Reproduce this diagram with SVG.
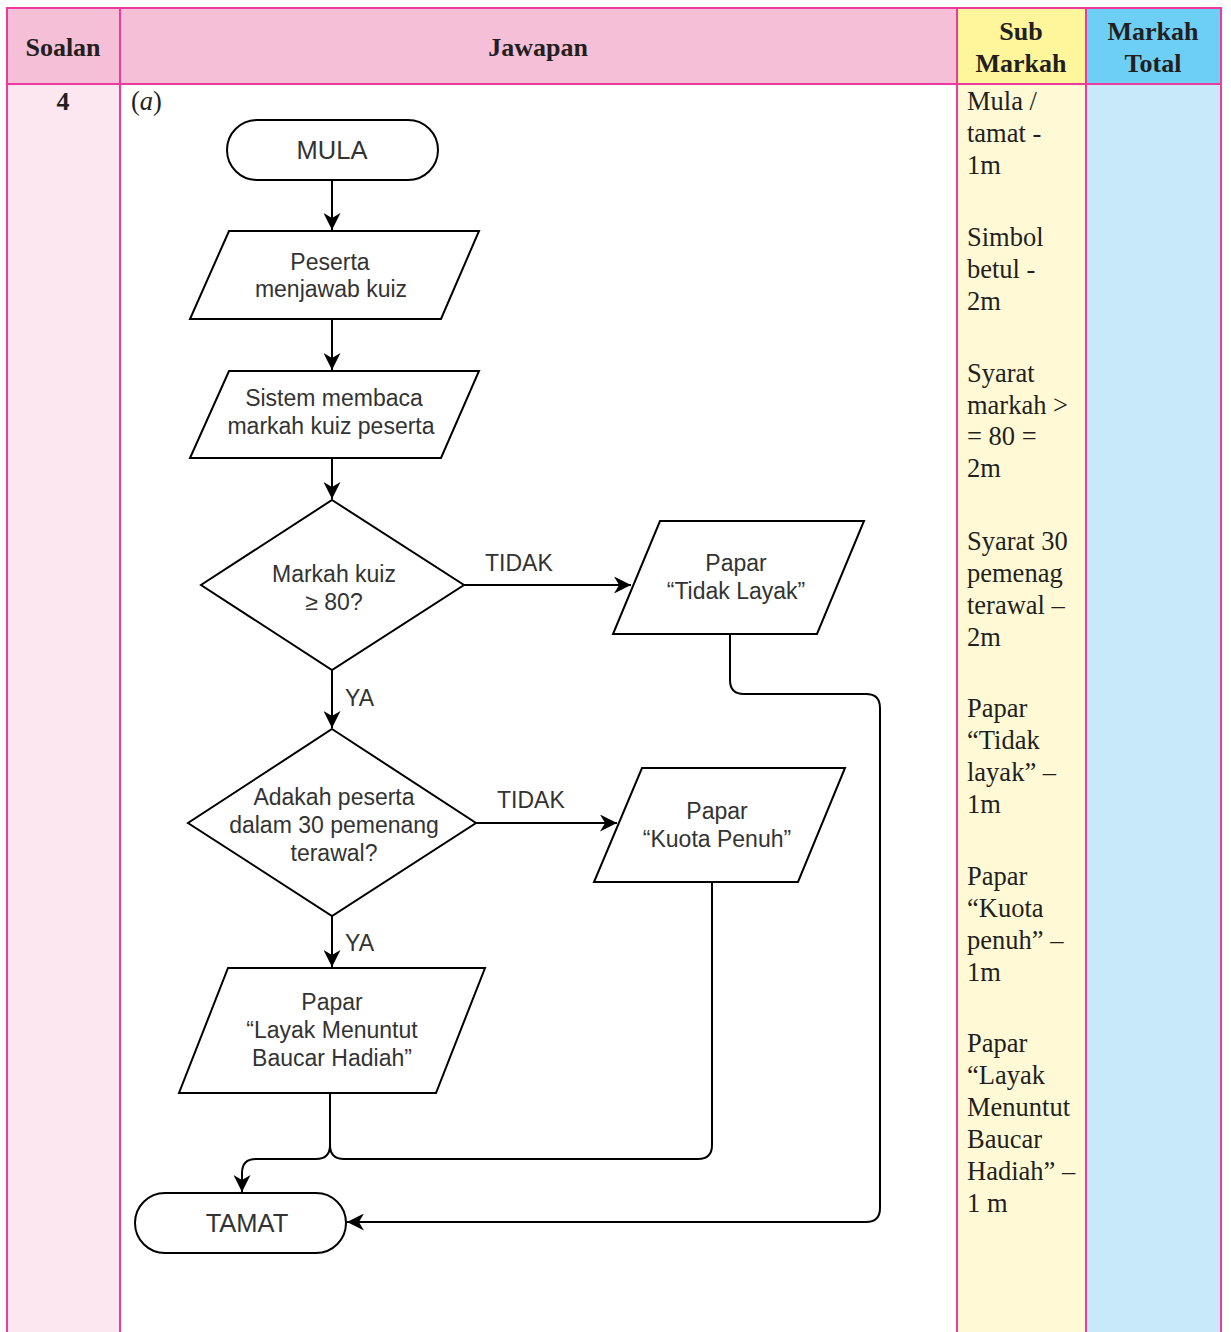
<svg xmlns="http://www.w3.org/2000/svg" width="1231" height="1332" viewBox="0 0 1231 1332">
<defs>
<marker id="arr" viewBox="0 0 10 10" refX="10" refY="5" markerWidth="17" markerHeight="17" markerUnits="userSpaceOnUse" orient="auto">
<path d="M0,0 L10,5 L0,10 L3,5 Z" fill="#000"/>
</marker>
</defs>
<style>
.hd{font-family:"Liberation Serif",serif;font-weight:bold;font-size:26px;fill:#231F20;text-anchor:middle}
.sm{font-family:"Liberation Serif",serif;font-size:26.5px;fill:#231F20}
.grid{stroke:#EC3A9E;stroke-width:2;fill:none}
.shape{fill:#fff;stroke:#000;stroke-width:2}
.t{font-family:"Liberation Sans",Arial,sans-serif;font-size:23px;fill:#333;text-anchor:middle}
.tb{font-family:"Liberation Sans",Arial,sans-serif;font-size:25.5px;fill:#333;text-anchor:middle}
.lbl{font-family:"Liberation Sans",Arial,sans-serif;font-size:23px;fill:#333}
.ln{fill:none;stroke:#000;stroke-width:2}
</style>
<rect width="1231" height="1332" fill="#fff"/>
<g id="table">
<rect x="7" y="8" width="1214" height="76" fill="#F6BFD8"/>
<rect x="957" y="8" width="129" height="76" fill="#FFF59B"/>
<rect x="1086" y="8" width="135" height="76" fill="#6DCFF6"/>
<rect x="7" y="84" width="113" height="1248" fill="#FCE7F1"/>
<rect x="957" y="84" width="129" height="1248" fill="#FFFAD5"/>
<rect x="1086" y="84" width="135" height="1248" fill="#C8E9F8"/>
<path class="grid" d="M7,1332 V8 H1221 V1332 M7,84 H1221 M120,8 V1332 M957,8 V1332 M1086,8 V1332"/>
<text class="hd" x="63" y="56">Soalan</text>
<text class="hd" x="538" y="56">Jawapan</text>
<text class="hd" x="1021" y="40">Sub</text>
<text class="hd" x="1021" y="72">Markah</text>
<text class="hd" x="1153" y="40">Markah</text>
<text class="hd" x="1153" y="72">Total</text>
<text class="hd" x="63" y="110">4</text>
<text class="sm" x="131" y="110">(<tspan font-style="italic">a</tspan>)</text>
<g class="sm">
<text x="967" y="110">Mula /</text>
<text x="967" y="142">tamat -</text>
<text x="967" y="174">1m</text>
<text x="967" y="246">Simbol</text>
<text x="967" y="278">betul -</text>
<text x="967" y="310">2m</text>
<text x="967" y="382">Syarat</text>
<text x="967" y="414">markah &gt;</text>
<text x="967" y="445">= 80 =</text>
<text x="967" y="477">2m</text>
<text x="967" y="550">Syarat 30</text>
<text x="967" y="582">pemenag</text>
<text x="967" y="614">terawal –</text>
<text x="967" y="646">2m</text>
<text x="967" y="717">Papar</text>
<text x="967" y="749">“Tidak</text>
<text x="967" y="781">layak” –</text>
<text x="967" y="813">1m</text>
<text x="967" y="885">Papar</text>
<text x="967" y="917">“Kuota</text>
<text x="967" y="949">penuh” –</text>
<text x="967" y="981">1m</text>
<text x="967" y="1052">Papar</text>
<text x="967" y="1084">“Layak</text>
<text x="967" y="1116">Menuntut</text>
<text x="967" y="1148">Baucar</text>
<text x="967" y="1180">Hadiah” –</text>
<text x="967" y="1212">1 m</text>
</g>
</g>
<g id="connectors">
<path class="ln" d="M332,180 V230" marker-end="url(#arr)"/>
<path class="ln" d="M332,319 V370" marker-end="url(#arr)"/>
<path class="ln" d="M332,458 V499" marker-end="url(#arr)"/>
<path class="ln" d="M464,585 H631" marker-end="url(#arr)"/>
<path class="ln" d="M332,670 V728" marker-end="url(#arr)"/>
<path class="ln" d="M476,823 H617" marker-end="url(#arr)"/>
<path class="ln" d="M332,916 V967" marker-end="url(#arr)"/>
<path class="ln" d="M730,634 V680 Q730,694 744,694 H866 Q880,694 880,708 V1208 Q880,1222 866,1222 H347" marker-end="url(#arr)"/>
<path class="ln" d="M712,882 V1145 Q712,1159 698,1159 H344 Q330,1159 330,1145"/>
<path class="ln" d="M330,1093 V1145 Q330,1159 316,1159 H256 Q242,1159 242,1173 V1192" marker-end="url(#arr)"/>
<text class="lbl" x="485" y="571">TIDAK</text>
<text class="lbl" x="345" y="706">YA</text>
<text class="lbl" x="497" y="808">TIDAK</text>
<text class="lbl" x="345" y="951">YA</text>
</g>
<g id="mula">
<rect class="shape" x="227" y="120" width="211" height="60" rx="30"/>
<text class="tb" x="332" y="159">MULA</text>
</g>
<g id="peserta">
<path class="shape" d="M229,231 H479 L441,319 H190 Z"/>
<text class="t" x="330" y="270">Peserta</text>
<text class="t" x="331" y="297">menjawab kuiz</text>
</g>
<g id="sistem">
<path class="shape" d="M229,371 H479 L441,458 H190 Z"/>
<text class="t" x="334" y="406">Sistem membaca</text>
<text class="t" x="331" y="434">markah kuiz peserta</text>
</g>
<g id="markah">
<path class="shape" d="M332,500 L464,585 L332,670 L201,585 Z"/>
<text class="t" x="334" y="582">Markah kuiz</text>
<text class="t" x="334" y="610">≥ 80?</text>
</g>
<g id="tidaklayak">
<path class="shape" d="M660,521 H864 L817,634 H613 Z"/>
<text class="t" x="736" y="571">Papar</text>
<text class="t" x="736" y="599">“Tidak Layak”</text>
</g>
<g id="adakah">
<path class="shape" d="M332,729 L476,823 L332,916 L188,823 Z"/>
<text class="t" x="334" y="805">Adakah peserta</text>
<text class="t" x="334" y="833">dalam 30 pemenang</text>
<text class="t" x="334" y="861">terawal?</text>
</g>
<g id="kuota">
<path class="shape" d="M642,768 H845 L798,882 H594 Z"/>
<text class="t" x="717" y="819">Papar</text>
<text class="t" x="717" y="847">“Kuota Penuh”</text>
</g>
<g id="layak">
<path class="shape" d="M228,968 H485 L436,1093 H179 Z"/>
<text class="t" x="332" y="1010">Papar</text>
<text class="t" x="332" y="1038">“Layak Menuntut</text>
<text class="t" x="332" y="1066">Baucar Hadiah”</text>
</g>
<g id="tamat">
<rect class="shape" x="135" y="1193" width="211" height="60" rx="30"/>
<text class="tb" x="247" y="1232">TAMAT</text>
</g>
</svg>
